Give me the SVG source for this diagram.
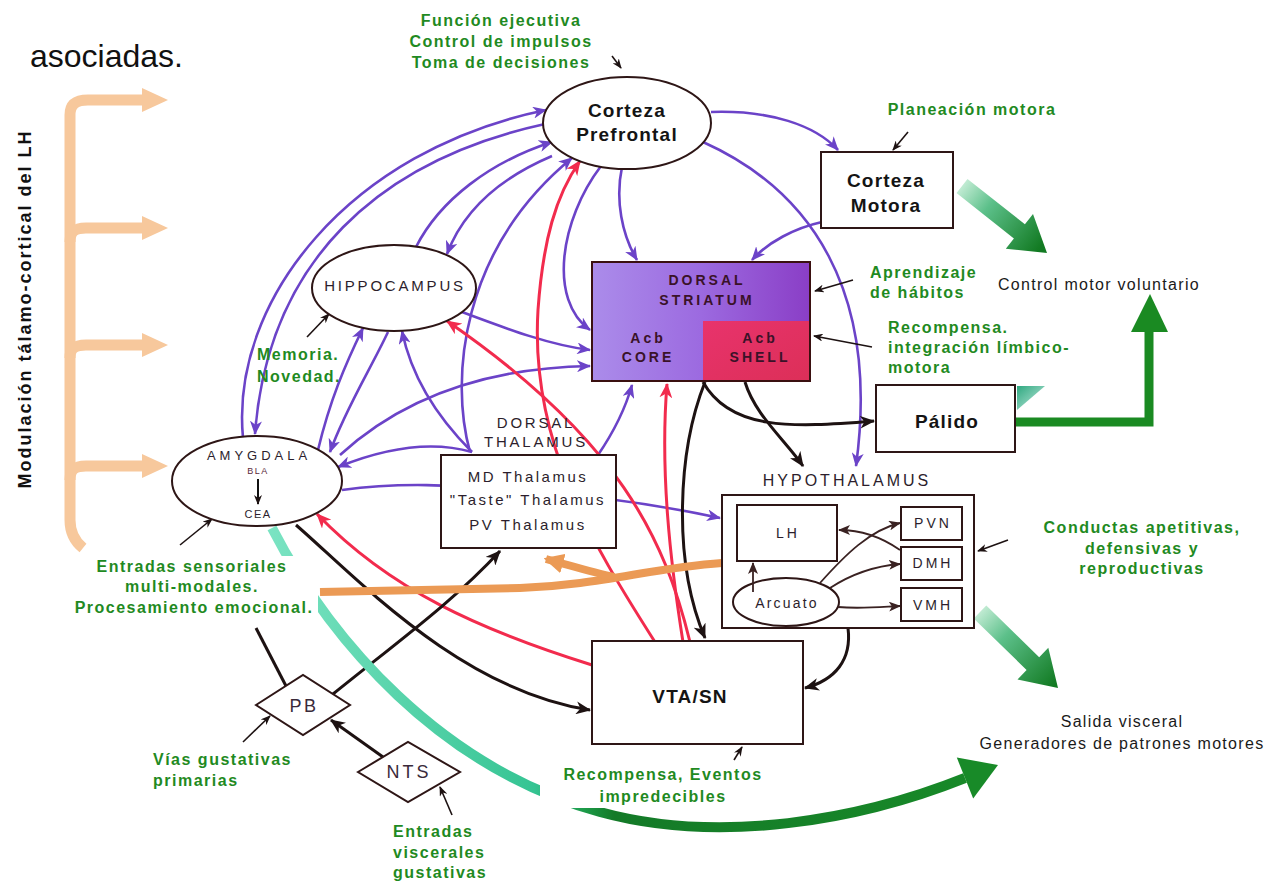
<svg xmlns="http://www.w3.org/2000/svg" width="1282" height="883" viewBox="0 0 1282 883">
<defs>
<style>
text{font-family:"Liberation Sans",Arial,Helvetica,sans-serif}
.p{fill:none;stroke:#6b43c8;stroke-width:2.6}
.k{fill:none;stroke:#1d1212;stroke-width:3}
.r{fill:none;stroke:#f22b4d;stroke-width:3}
.an{fill:none;stroke:#1d1212;stroke-width:1.6}
.hy{fill:none;stroke:#3a2222;stroke-width:1.8}
.box{fill:#fff;stroke:#2e1616;stroke-width:2}
.g{font-size:16px;font-weight:bold;fill:#1f8a22;letter-spacing:1.5px}
.big{font-size:19px;font-weight:bold;fill:#141414;letter-spacing:1.2px;text-anchor:middle}
.cap{font-size:15px;fill:#2c1e2c;letter-spacing:2.8px;text-anchor:middle}
.in{font-size:14px;fill:#2c1e2c;letter-spacing:3px;text-anchor:middle}
.st{font-size:14px;font-weight:bold;fill:#3a1228;letter-spacing:3px;text-anchor:middle}
.blk{font-size:16px;fill:#1a1a1a;letter-spacing:1.3px}
.mid{text-anchor:middle}
.or{fill:none;stroke:#f7c89c;stroke-width:11}
</style>
<marker id="mp" viewBox="0 0 14 12" refX="13" refY="6" markerWidth="14" markerHeight="12" markerUnits="userSpaceOnUse" orient="auto"><path d="M0,0 L14,6 L0,12 L4,6 z" fill="#6b43c8"/></marker>
<marker id="mk" viewBox="0 0 14 12" refX="13" refY="6" markerWidth="15" markerHeight="13" markerUnits="userSpaceOnUse" orient="auto"><path d="M0,0 L14,6 L0,12 L4,6 z" fill="#1d1212"/></marker>
<marker id="mr" viewBox="0 0 14 12" refX="13" refY="6" markerWidth="15" markerHeight="13" markerUnits="userSpaceOnUse" orient="auto"><path d="M0,0 L14,6 L0,12 L4,6 z" fill="#f22b4d"/></marker>
<marker id="ma" viewBox="0 0 10 8" refX="9" refY="4" markerWidth="10" markerHeight="8" markerUnits="userSpaceOnUse" orient="auto"><path d="M0,0 L10,4 L0,8 L3,4 z" fill="#1d1212"/></marker>
<marker id="mh" viewBox="0 0 12 10" refX="11" refY="5" markerWidth="12" markerHeight="10" markerUnits="userSpaceOnUse" orient="auto"><path d="M0,0 L12,5 L0,10 L3,5 z" fill="#3a2222"/></marker>
<marker id="mo" viewBox="0 0 16 16" refX="14" refY="8" markerWidth="20" markerHeight="20" markerUnits="userSpaceOnUse" orient="auto"><path d="M0,0 L16,8 L0,16 z" fill="#eb9a55"/></marker>
<linearGradient id="gs" x1="0" y1="0" x2="1" y2="0"><stop offset="0" stop-color="#ab8cea"/><stop offset="0.5" stop-color="#9c6ae0"/><stop offset="1" stop-color="#8a3ec6"/></linearGradient>
<linearGradient id="gsh" x1="0" y1="0" x2="1" y2="1"><stop offset="0" stop-color="#e8336c"/><stop offset="1" stop-color="#dc2f58"/></linearGradient>
<linearGradient id="ga1" gradientUnits="userSpaceOnUse" x1="960" y1="185" x2="1040" y2="248"><stop offset="0" stop-color="#c8eed8"/><stop offset="0.35" stop-color="#5cc08a"/><stop offset="1" stop-color="#127a22"/></linearGradient>
<linearGradient id="ga4" gradientUnits="userSpaceOnUse" x1="978" y1="610" x2="1055" y2="685"><stop offset="0" stop-color="#c8eed8"/><stop offset="0.35" stop-color="#5cc08a"/><stop offset="1" stop-color="#127a22"/></linearGradient>
<linearGradient id="gc" gradientUnits="userSpaceOnUse" x1="272" y1="0" x2="1000" y2="0"><stop offset="0" stop-color="#7ae3c2"/><stop offset="0.36" stop-color="#35c493"/><stop offset="0.43" stop-color="#1c9a48"/><stop offset="0.47" stop-color="#147a28"/><stop offset="1" stop-color="#188a28"/></linearGradient>
<linearGradient id="gt" x1="0" y1="0" x2="1" y2="1"><stop offset="0" stop-color="#2fa880"/><stop offset="1" stop-color="#c4ece0"/></linearGradient>
</defs>
<rect width="1282" height="883" fill="#fff"/>

<text x="30" y="67" font-size="32" fill="#111">asociadas.</text>

<g id="modulacion">
<path class="or" d="M83 548 C73 540 70 530 70 520 L70 115 C70 104 76 100 88 100 L146 100"/>
<path class="or" d="M70 242 C70 232 74 228 86 228 L146 228"/>
<path class="or" d="M70 358 C70 349 74 345 86 345 L146 345"/>
<path class="or" d="M70 480 C70 470 74 466 86 466 L146 466"/>
<polygon points="142,88 168,100 142,112" fill="#f7c89c"/>
<polygon points="142,216 168,228 142,240" fill="#f7c89c"/>
<polygon points="142,333 168,345 142,357" fill="#f7c89c"/>
<polygon points="142,454 168,466 142,478" fill="#f7c89c"/>
<text transform="translate(31,309) rotate(-90)" font-size="18" font-weight="bold" fill="#111" letter-spacing="2" text-anchor="middle">Modulación tálamo-cortical del LH</text>
</g>

<g id="connectors">
<path class="p" d="M243 438 C230 300 350 150 546 110" marker-end="url(#mp)"/>
<path class="p" d="M545 124 C380 160 268 260 255 434" marker-end="url(#mp)"/>
<path class="p" d="M416 247 C440 200 490 162 552 142" marker-end="url(#mp)"/>
<path class="p" d="M552 156 C505 176 465 206 447 254" marker-end="url(#mp)"/>
<path class="p" d="M470 452 C450 380 460 250 572 158" marker-end="url(#mp)"/>
<path class="p" d="M601 166 C560 220 548 300 590 330" marker-end="url(#mp)"/>
<path class="p" d="M622 167 C615 200 622 235 637 260" marker-end="url(#mp)"/>
<path class="p" d="M711 112 C770 110 815 125 838 150" marker-end="url(#mp)"/>
<path class="p" d="M703 142 C810 190 880 290 856 466" marker-end="url(#mp)"/>
<path class="p" d="M822 222 C795 228 768 242 752 260" marker-end="url(#mp)"/>
<path class="p" d="M462 312 C510 330 550 345 590 350" marker-end="url(#mp)"/>
<path class="p" d="M340 455 C400 400 480 368 590 366" marker-end="url(#mp)"/>
<path class="p" d="M318 450 C330 400 345 365 363 328" marker-end="url(#mp)"/>
<path class="p" d="M388 332 C370 370 345 410 330 452" marker-end="url(#mp)"/>
<path class="p" d="M472 452 C440 420 412 380 402 331" marker-end="url(#mp)"/>
<path class="p" d="M472 452 C430 440 385 448 338 467" marker-end="url(#mp)"/>
<path class="p" d="M598 455 C615 430 625 410 632 385" marker-end="url(#mp)"/>
<path class="p" d="M342 490 C400 482 450 485 520 490 C600 496 660 505 720 518" marker-end="url(#mp)"/>

<path class="r" d="M655 642 C590 540 530 440 538 310 C543 240 556 195 580 161" marker-end="url(#mr)"/>
<path class="r" d="M683 642 C670 560 660 470 667 384" marker-end="url(#mr)"/>
<path class="r" d="M690 642 C665 540 620 440 447 321" marker-end="url(#mr)"/>
<path class="r" d="M592 665 C480 630 390 590 317 514" marker-end="url(#mr)"/>

<path class="k" d="M705 382 C678 450 672 560 705 638" marker-end="url(#mk)"/>
<path class="k" d="M703 382 C730 430 790 428 874 421" marker-end="url(#mk)"/>
<path class="k" d="M745 382 C755 415 785 440 803 466" marker-end="url(#mk)"/>
<path class="k" d="M848 628 C852 660 835 680 805 688" marker-end="url(#mk)"/>
<path class="k" d="M296 525 C356 577 460 690 590 710" marker-end="url(#mk)"/>
<path class="k" d="M333 694 C400 640 455 600 500 551" marker-end="url(#mk)"/>
<path class="k" d="M286 686 L256 628"/>
<path class="k" d="M383 757 L331 720" marker-end="url(#mk)"/>

<path d="M722 563 C650 568 600 585 520 588 L320 592" stroke="#eb9a55" stroke-width="8" fill="none"/>
<path d="M614 577 C592 572 572 566 546 559" stroke="#eb9a55" stroke-width="8" fill="none" marker-end="url(#mo)"/>

<path d="M272 528 C330 640 440 768 600 812 C720 845 860 820 965 778" stroke="url(#gc)" stroke-width="10" fill="none"/>
<polygon points="973.2,798.4 998,765 956.8,757.6" fill="#188a28"/>
<polygon points="956.5,193.1 967.5,178.9 1024.9,224.3 1033,214.1 1047,253 1005.8,248.7 1013.9,238.5" fill="url(#ga1)"/>
<polygon points="973.7,618.4 986.3,605.6 1039.2,657.2 1048.3,647.8 1058,688 1017.5,679.4 1026.6,670" fill="url(#ga4)"/>
<path d="M1015 422 H1149 V330" stroke="#1a8a22" stroke-width="9" fill="none"/>
<polygon points="1131,332 1168,332 1150,294" fill="#1a8a22"/>
<polygon points="1017,386 1045,386 1017,410" fill="url(#gt)"/>

<path class="an" d="M612 56 L621 68" marker-end="url(#ma)"/>
<path class="an" d="M908 132 L893 150" marker-end="url(#ma)"/>
<path class="an" d="M853 280 L815 291" marker-end="url(#ma)"/>
<path class="an" d="M872 347 L814 336" marker-end="url(#ma)"/>
<path class="an" d="M1008 540 L978 551" marker-end="url(#ma)"/>
<path class="an" d="M734 760 L742 747" marker-end="url(#ma)"/>
<path class="an" d="M180 545 L212 519" marker-end="url(#ma)"/>
<path class="an" d="M307 337 L329 314" marker-end="url(#ma)"/>
<path class="an" d="M243 742 L270 716" marker-end="url(#ma)"/>
<path class="an" d="M452 815 L440 787" marker-end="url(#ma)"/>
</g>

<g id="corteza-prefrontal">
<ellipse class="box" cx="627" cy="123" rx="84" ry="46"/>
<text class="big" x="627" y="117">Corteza</text>
<text class="big" x="627" y="141">Prefrontal</text>
</g>

<g id="corteza-motora">
<rect class="box" x="821" y="152" width="132" height="76"/>
<text class="big" x="886" y="187">Corteza</text>
<text class="big" x="886" y="212">Motora</text>
</g>

<g id="dorsal-striatum">
<rect x="592" y="262" width="218" height="119" fill="url(#gs)"/>
<rect x="703" y="321" width="107" height="60" fill="url(#gsh)"/>
<rect x="592" y="262" width="218" height="119" fill="none" stroke="#3a1010" stroke-width="2"/>
<text class="st" x="707" y="285">DORSAL</text>
<text class="st" x="707" y="305">STRIATUM</text>
<text class="st" x="648" y="343">Acb</text>
<text class="st" x="648" y="362">CORE</text>
<text class="st" x="760" y="343" fill="#6a1030">Acb</text>
<text class="st" x="760" y="362" fill="#6a1030">SHELL</text>
</g>

<g id="hippocampus">
<ellipse class="box" cx="394" cy="288" rx="82" ry="43"/>
<text class="cap" x="395" y="291">HIPPOCAMPUS</text>
</g>

<g id="amygdala">
<ellipse class="box" cx="257" cy="481" rx="85" ry="45"/>
<text x="259" y="460" font-size="13" fill="#2c1e2c" letter-spacing="4" text-anchor="middle">AMYGDALA</text>
<text x="258" y="474" font-size="9" fill="#5a2a3a" letter-spacing="1.5" text-anchor="middle">BLA</text>
<path d="M258 479 L258 504" stroke="#111" stroke-width="2" marker-end="url(#ma)"/>
<text x="258" y="518" font-size="11" fill="#2c1e2c" letter-spacing="1.5" text-anchor="middle">CEA</text>
</g>

<g id="dorsal-thalamus">
<text class="cap" x="536" y="428" letter-spacing="3.3">DORSAL</text>
<text class="cap" x="536" y="447" letter-spacing="3.5">THALAMUS</text>
<rect class="box" x="441" y="455" width="175" height="93"/>
<text x="528" y="482" font-size="15" fill="#2c1e2c" letter-spacing="2.5" text-anchor="middle">MD Thalamus</text>
<text x="528" y="505" font-size="15" fill="#2c1e2c" letter-spacing="2.5" text-anchor="middle">"Taste" Thalamus</text>
<text x="528" y="530" font-size="15" fill="#2c1e2c" letter-spacing="2.5" text-anchor="middle">PV Thalamus</text>
</g>

<g id="palido">
<rect class="box" x="876" y="385" width="139" height="67"/>
<text class="big" x="947" y="428" letter-spacing="1.5">Pálido</text>
</g>

<g id="hypothalamus">
<text x="847" y="486" font-size="16" fill="#2c1e2c" letter-spacing="3" text-anchor="middle">HYPOTHALAMUS</text>
<rect class="box" x="722" y="495" width="252" height="133"/>
<rect class="box" x="737" y="505" width="100" height="56" stroke-width="1.8"/>
<text class="in" x="788" y="538">LH</text>
<rect class="box" x="901" y="507" width="61" height="33" stroke-width="1.8"/>
<text class="in" x="933" y="528">PVN</text>
<rect class="box" x="901" y="547" width="61" height="33" stroke-width="1.8"/>
<text class="in" x="933" y="568">DMH</text>
<rect class="box" x="901" y="588" width="61" height="33" stroke-width="1.8"/>
<text class="in" x="933" y="610">VMH</text>
<ellipse class="box" cx="786" cy="602" rx="53" ry="24" stroke-width="1.8"/>
<text x="787" y="608" font-size="14" fill="#2c1e2c" letter-spacing="2.2" text-anchor="middle">Arcuato</text>
<path class="hy" d="M753 592 L753 563" marker-end="url(#mh)"/>
<path class="hy" d="M820 583 C845 555 870 530 900 523" marker-end="url(#mh)"/>
<path class="hy" d="M830 588 C850 575 875 566 900 564" marker-end="url(#mh)"/>
<path class="hy" d="M838 607 C860 609 880 607 900 606" marker-end="url(#mh)"/>
<path class="hy" d="M900 550 C880 536 860 530 839 530" marker-end="url(#mh)"/>
</g>

<g id="vta-sn">
<rect class="box" x="592" y="641" width="211" height="103"/>
<text class="big" x="690" y="703" font-size="20">VTA/SN</text>
</g>

<g id="pb">
<polygon class="box" points="256,705 303,675 350,705 303,735"/>
<text x="304" y="712" font-size="18" fill="#3a2a3a" letter-spacing="2.5" text-anchor="middle">PB</text>
</g>

<g id="nts">
<polygon class="box" points="358,772 408,742 460,772 408,802"/>
<text x="409" y="778" font-size="18" fill="#3a2a3a" letter-spacing="3" text-anchor="middle">NTS</text>
</g>

<g id="labels">
<text class="g mid" x="501" y="26">Función ejecutiva</text>
<text class="g mid" x="501" y="47">Control de impulsos</text>
<text class="g mid" x="501" y="68">Toma de decisiones</text>
<text class="g mid" x="972" y="115">Planeación motora</text>
<text class="g" x="870" y="278">Aprendizaje</text>
<text class="g" x="870" y="298">de hábitos</text>
<text class="g" x="888" y="333">Recompensa.</text>
<text class="g" x="888" y="353">integración límbico-</text>
<text class="g" x="888" y="373">motora</text>
<text class="blk" x="998" y="290">Control motor voluntario</text>
<text class="g mid" x="1142" y="533">Conductas apetitivas,</text>
<text class="g mid" x="1142" y="554">defensivas y</text>
<text class="g mid" x="1142" y="574">reproductivas</text>
<rect x="70" y="556" width="248" height="64" fill="#fff"/>
<text class="g mid" x="192" y="572">Entradas sensoriales</text>
<text class="g mid" x="192" y="592">multi-modales.</text>
<text class="g mid" x="194" y="613">Procesamiento emocional.</text>
<text class="g" x="257" y="360">Memoria.</text>
<text class="g" x="257" y="382">Novedad.</text>
<text class="g" x="153" y="765">Vías gustativas</text>
<text class="g" x="153" y="786">primarias</text>
<text class="g" x="393" y="837">Entradas</text>
<text class="g" x="393" y="858">viscerales</text>
<text class="g" x="393" y="878">gustativas</text>
<rect x="540" y="762" width="234" height="46" fill="#fff"/>
<text class="g mid" x="663" y="780">Recompensa, Eventos</text>
<text class="g mid" x="663" y="802">impredecibles</text>
<text class="blk mid" x="1122" y="727">Salida visceral</text>
<text class="blk mid" x="1122" y="749">Generadores de patrones motores</text>
</g>
</svg>
